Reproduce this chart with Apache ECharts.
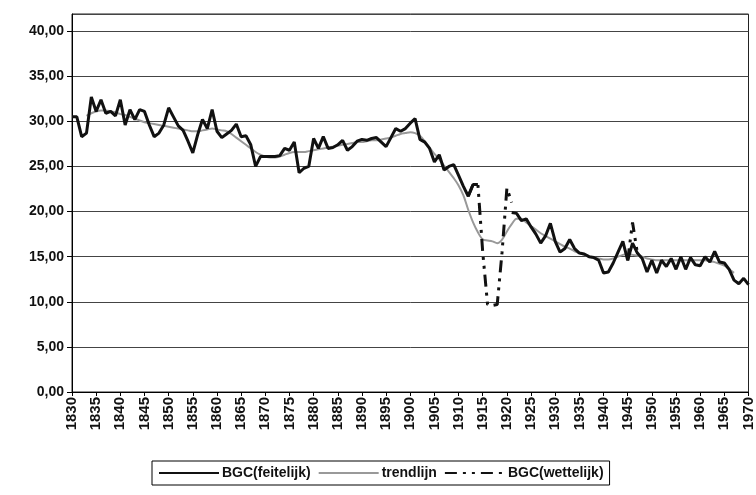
<!DOCTYPE html>
<html>
<head>
<meta charset="utf-8">
<script src="https://cdn.jsdelivr.net/npm/echarts@6/dist/echarts.min.js"></script>
<style>html,body{margin:0;padding:0;background:#fff}#c{width:756px;height:495px}</style>
</head>
<body>
<div id="c"></div>
<script>
const startYear = 1830;
const endYear = 1970;
const yTicks = [0, 5, 10, 15, 20, 25, 30, 35, 40];

// BGC(feitelijk), 1830..1970 (null = no value)
const feitelijk = [
 30.5,30.5,28.3,28.7,32.7,31.1,32.4,30.9,31.1,30.6,
 32.4,29.6,31.3,30.2,31.3,31.1,29.6,28.3,28.7,29.6,
 31.5,30.5,29.5,29.0,27.8,26.5,28.5,30.2,29.2,31.3,
 28.9,28.2,28.6,29.0,29.7,28.3,28.4,27.4,25.0,26.1,
 26.1,26.1,26.1,26.2,27.0,26.8,27.7,24.3,24.8,25.0,
 28.1,27.0,28.3,27.0,27.1,27.4,27.9,26.8,27.2,27.8,
 28.0,27.9,28.1,28.2,27.7,27.2,28.2,29.2,28.9,29.2,
 29.8,30.3,28.0,27.7,27.0,25.5,26.3,24.6,25.0,25.2,
 24.0,22.8,21.7,23.0,23.0,null,null,null,null,null,
 null,19.9,19.8,19.0,19.2,18.3,17.5,16.5,17.3,18.7,
 16.7,15.5,15.9,16.9,15.9,15.4,15.3,15.0,14.9,14.6,
 13.2,13.3,14.3,15.5,16.7,14.6,16.5,15.4,14.8,13.3,
 14.6,13.2,14.6,13.9,14.8,13.6,15.0,13.6,14.9,14.1,
 14.0,15.0,14.4,15.6,14.4,14.3,13.6,12.4,12.0,12.6,
 11.9
];

// BGC(wettelijk), only where it differs
const wettelijk = [
 null,null,null,null,null,null,null,null,null,null,
 null,null,null,null,null,null,null,null,null,null,
 null,null,null,null,null,null,null,null,null,null,
 null,null,null,null,null,null,null,null,null,null,
 null,null,null,null,null,null,null,null,null,null,
 null,null,null,null,null,null,null,null,null,null,
 null,null,null,null,null,null,null,null,null,null,
 null,null,null,null,null,null,null,null,null,null,
 null,null,21.7,23.0,23.0,15.5,9.7,9.6,9.7,15.5,
 22.6,21.0,null,null,null,null,null,null,null,null,
 null,null,null,null,null,null,null,null,null,null,
 null,null,null,null,null,14.6,18.8,15.4,null,null,
 null,null,null,null,null,null,null,null,null,null,
 null,null,null,null,null,null,null,null,null,null,
 null
];

// trendlijn
const trend = [
 null,null,null,30.6,30.9,31.1,31.2,31.2,31.1,31.0,
 30.8,30.7,30.5,30.3,30.1,29.9,29.8,29.7,29.6,29.5,
 29.4,29.3,29.2,29.1,29.0,28.9,28.9,29.0,29.1,29.2,
 29.1,29.0,28.9,28.6,28.2,27.8,27.4,27.0,26.6,26.3,
 26.1,26.0,26.0,26.1,26.3,26.5,26.6,26.6,26.6,26.7,
 26.8,26.9,27.0,27.1,27.2,27.3,27.4,27.5,27.6,27.7,
 27.7,27.8,27.9,27.9,28.0,28.1,28.2,28.4,28.6,28.7,
 28.8,28.7,28.4,27.8,27.1,26.4,25.8,25.1,24.4,23.7,
 22.9,21.8,20.2,18.8,17.7,16.9,16.8,16.7,16.5,16.9,
 17.8,18.6,19.2,19.2,18.8,18.4,18.0,17.6,17.3,17.0,
 16.7,16.4,16.1,15.9,15.6,15.4,15.2,15.0,14.9,14.8,
 14.7,14.7,14.8,15.0,15.2,15.3,15.2,15.1,15.0,14.8,
 14.7,14.6,14.6,14.6,14.6,14.6,14.6,14.6,14.6,14.6,
 14.6,14.6,14.5,14.4,14.2,14.0,13.6,13.2,null,null,
 null
];

const years = [];
for (let y = startYear; y <= endYear; y++) years.push(String(y));

const chart = echarts.init(document.getElementById('c'), null, {renderer: 'canvas'});
const fontFam = 'Arial, "Liberation Sans", sans-serif';
chart.setOption({
  animation: false,
  backgroundColor: '#fff',
  grid: {left: 72, right: 5, top: 14, bottom: 103, show: true, borderColor: '#222', borderWidth: 1},
  legend: {
    left: 152, top: 461,
    borderColor: '#000', borderWidth: 1, padding: [5, 6, 5, 6],
    itemWidth: 60, itemHeight: 10, itemGap: 7,
    itemStyle: {opacity: 0},
    textStyle: {fontFamily: fontFam, fontSize: 14, color: '#111', fontWeight: 'bold', padding: [0, 0, 0, -2]},
    data: ['BGC(feitelijk)', 'trendlijn', 'BGC(wettelijk)']
  },
  xAxis: {
    type: 'category', data: years, boundaryGap: false,
    axisLine: {lineStyle: {color: '#000', width: 1}},
    axisTick: {interval: 4, length: 4, lineStyle: {color: '#000'}},
    axisLabel: {interval: 4, rotate: 90, margin: 5, fontFamily: fontFam, fontSize: 15, color: '#111', fontWeight: 'bold'},
    splitLine: {show: false}
  },
  yAxis: {
    type: 'value', min: 0, max: 41.9, interval: 5,
    axisLine: {show: true, lineStyle: {color: '#000', width: 1}},
    axisTick: {show: true, length: 5, lineStyle: {color: '#000'}},
    axisLabel: {showMaxLabel: false, margin: 8, fontFamily: fontFam, fontSize: 14, color: '#111', fontWeight: 'bold',
      formatter: v => yTicks.indexOf(v) >= 0 ? v.toFixed(2).replace('.', ',') : ''},
    splitLine: {show: true, lineStyle: {color: '#444', width: 1}}
  },
  series: [
    {name: 'BGC(feitelijk)', type: 'line', data: feitelijk, symbol: 'none', connectNulls: false,
     lineStyle: {color: '#111', width: 3}, itemStyle: {color: '#111'}, z: 3},
    {name: 'trendlijn', type: 'line', data: trend, symbol: 'none', smooth: 0.3,
     lineStyle: {color: '#999', width: 2}, itemStyle: {color: '#999'}, z: 2},
    {name: 'BGC(wettelijk)', type: 'line', data: wettelijk, symbol: 'none',
     lineStyle: {color: '#111', width: 3, type: [12, 6, 3, 6, 3, 6]}, itemStyle: {color: '#111'}, z: 4}
  ]
});
</script>
</body>
</html>
